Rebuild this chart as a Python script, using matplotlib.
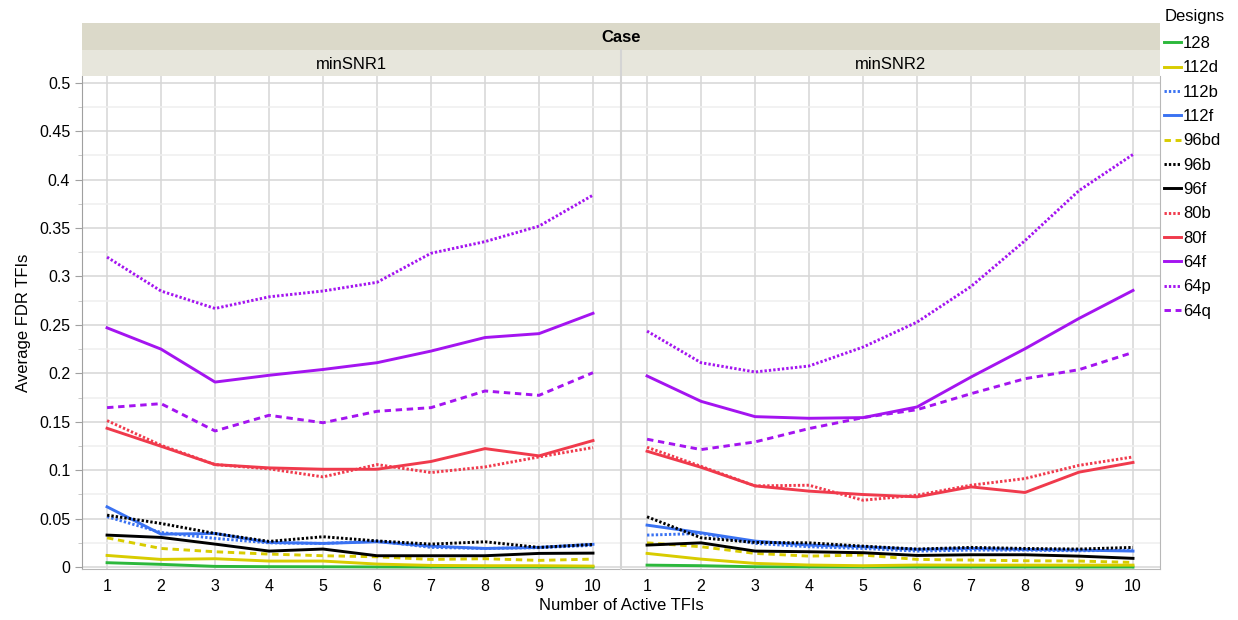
import matplotlib
matplotlib.use("Agg")
import matplotlib.pyplot as plt
from matplotlib.ticker import MultipleLocator

plt.rcParams['font.family'] = ['Liberation Sans', 'DejaVu Sans']

active_tfis = [1, 2, 3, 4, 5, 6, 7, 8, 9, 10]
cases = ["minSNR1", "minSNR2"]
designs = ["128", "112d", "112b", "112f", "96bd", "96b", "96f",
           "80b", "80f", "64f", "64p", "64q"]

# average FDR per design, one list per case
fdr_snr1 = {
    "128":  [0.0045, 0.0028, 0.0007, 0.0004, 0.0003, 0.0001, 0.0, 0.0, 0.0, 0.0],
    "112d": [0.012, 0.0079, 0.0086, 0.0062, 0.0062, 0.0031, 0.0017, 0.0014, 0.0014, 0.001],
    "112b": [0.052, 0.0357, 0.0296, 0.025, 0.0244, 0.0268, 0.0203, 0.0192, 0.020, 0.0224],
    "112f": [0.0622, 0.034, 0.0347, 0.0254, 0.0244, 0.0261, 0.0216, 0.0192, 0.0203, 0.0235],
    "96bd": [0.0302, 0.0192, 0.0158, 0.0134, 0.0117, 0.0106, 0.0079, 0.0086, 0.0069, 0.0082],
    "96b":  [0.0536, 0.045, 0.0347, 0.0265, 0.0313, 0.027, 0.0237, 0.0261, 0.0203, 0.0234],
    "96f":  [0.033, 0.0306, 0.0237, 0.0165, 0.0186, 0.0117, 0.0117, 0.0117, 0.0141, 0.0144],
    "80b":  [0.1512, 0.1258, 0.1058, 0.1014, 0.0931, 0.1058, 0.0976, 0.1034, 0.1137, 0.1234],
    "80f":  [0.1433, 0.1247, 0.1058, 0.1024, 0.101, 0.101, 0.109, 0.1223, 0.1148, 0.1306],
    "64f":  [0.247, 0.225, 0.191, 0.198, 0.204, 0.211, 0.223, 0.237, 0.241, 0.262],
    "64p":  [0.32, 0.285, 0.267, 0.279, 0.285, 0.294, 0.324, 0.336, 0.352, 0.384],
    "64q":  [0.1646, 0.1687, 0.1405, 0.1567, 0.149, 0.1608, 0.1646, 0.1818, 0.1773, 0.2007],
}
fdr_snr2 = {
    "128":  [0.002, 0.0014, 0.0003, 0.0001, 0.0, 0.0, 0.0, 0.0, 0.0, 0.0],
    "112d": [0.0141, 0.0082, 0.0038, 0.0021, 0.0014, 0.0021, 0.002, 0.002, 0.002, 0.002],
    "112b": [0.033, 0.0347, 0.0244, 0.021, 0.0192, 0.0165, 0.0175, 0.0175, 0.0168, 0.0175],
    "112f": [0.0433, 0.0354, 0.0268, 0.0227, 0.021, 0.0182, 0.0192, 0.0182, 0.0175, 0.0165],
    "96bd": [0.025, 0.021, 0.0141, 0.0113, 0.0124, 0.0079, 0.0072, 0.0065, 0.0062, 0.0048],
    "96b":  [0.0519, 0.0302, 0.0254, 0.025, 0.0216, 0.0186, 0.0203, 0.0192, 0.0186, 0.0203],
    "96f":  [0.0227, 0.025, 0.0165, 0.0158, 0.0148, 0.012, 0.0127, 0.0127, 0.0113, 0.009],
    "80b":  [0.1237, 0.104, 0.0838, 0.0845, 0.069, 0.0742, 0.0845, 0.0914, 0.105, 0.1137],
    "80f":  [0.1196, 0.103, 0.0838, 0.0784, 0.0749, 0.0725, 0.0828, 0.077, 0.098, 0.108],
    "64f":  [0.1973, 0.1711, 0.1553, 0.1536, 0.1543, 0.1653, 0.1962, 0.2254, 0.2567, 0.2856],
    "64p":  [0.2436, 0.211, 0.2014, 0.2076, 0.2271, 0.2529, 0.2897, 0.337, 0.3887, 0.426],
    "64q":  [0.132, 0.1213, 0.1292, 0.143, 0.1543, 0.1625, 0.179, 0.1945, 0.2038, 0.2216],
}

green = "#2cb83c"
yellow = "#d8cc00"
blue = "#3a72f2"
black = "#000000"
red = "#f03a4c"
purple = "#a414f0"
dot = (0, (0.8, 0.7))
dash = (0, (2.2, 1.6))
styles = {
    "128": (green, "-"), "112d": (yellow, "-"), "112b": (blue, dot),
    "112f": (blue, "-"), "96bd": (yellow, dash), "96b": (black, dot),
    "96f": (black, "-"), "80b": (red, dot), "80f": (red, "-"),
    "64f": (purple, "-"), "64p": (purple, dot), "64q": (purple, dash),
}

W, H = 1238, 620
fig = plt.figure(figsize=(W / 100, H / 100), dpi=100)


def fx(px):
    return px / W


def fy(py):
    return 1 - py / H


panels = [(82, 620), (622, 1160)]
top, bottom = 76, 569
axes = []
for (x0, x1), case, data in zip(panels, cases, [fdr_snr1, fdr_snr2]):
    ax = fig.add_axes([fx(x0), fy(bottom), fx(x1 - x0), fy(top) - fy(bottom)])
    for d in designs:
        c, ls = styles[d]
        ax.plot(active_tfis, data[d], color=c, linestyle=ls, lw=2.1, label=d)
    ax.set_xlim(0.536, 10.5)
    ax.set_ylim(-0.002, 0.507)
    ax.set_xticks(active_tfis)
    ax.yaxis.set_major_locator(MultipleLocator(0.05))
    ax.yaxis.set_minor_locator(MultipleLocator(0.025))
    ax.grid(True, which="major", color="#d6d6d6", lw=1.1)
    ax.grid(True, which="minor", axis="y", color="#efefef", lw=1.1)
    ax.set_axisbelow(True)
    for s in ax.spines.values():
        s.set_visible(False)
    ax.spines["bottom"].set_visible(True)
    ax.spines["bottom"].set_color("#b8b8b8")
    ax.tick_params(axis="x", length=0, labelsize=11.5, pad=7)
    if case == cases[0]:
        ax.spines["left"].set_visible(True)
        ax.spines["left"].set_color("#a0a0a0")
        ax.tick_params(axis="y", which="major", length=5, color="#a0a0a0", labelsize=11.5)
        ax.tick_params(axis="y", which="minor", length=3, color="#c0c0c0")
        ax.set_yticklabels(["0" if v == 0 else ("%g" % v) for v in ax.get_yticks()])
        ax.set_ylabel("Average FDR TFIs", fontsize=12, labelpad=6)
    else:
        ax.tick_params(axis="y", which="both", length=0, labelleft=False)
        ax.spines["right"].set_visible(True)
        ax.spines["right"].set_color("#b8b8b8")
    # strip for each case
    sax = fig.add_axes([fx(x0), fy(76), fx(x1 - x0), fy(50) - fy(76)])
    sax.set_facecolor("#e7e6dc")
    sax.set_xticks([])
    sax.set_yticks([])
    for s in sax.spines.values():
        s.set_visible(False)
    sax.text(0.5, 0.45, case, ha="center", va="center", fontsize=12, transform=sax.transAxes)
    axes.append(ax)

# separator between the panels
fig.add_artist(plt.Line2D([fx(621), fx(621)], [fy(569), fy(50)], color="#d4d4d4", lw=1.5))

cax = fig.add_axes([fx(82), fy(50), fx(1160 - 82), fy(23) - fy(50)])
cax.set_facecolor("#dbd9c9")
cax.set_xticks([])
cax.set_yticks([])
for s in cax.spines.values():
    s.set_visible(False)
cax.text(0.5, 0.45, "Case", ha="center", va="center", fontsize=12, fontweight="bold",
         transform=cax.transAxes)

fig.text(fx(621), fy(606), "Number of Active TFIs", ha="center", va="center", fontsize=12)

fig.text(fx(1165), fy(16), "Designs", ha="left", va="center", fontsize=12)
handles, labels = axes[0].get_legend_handles_labels()
leg = fig.legend(handles, labels, loc="upper left",
                 bbox_to_anchor=(fx(1164), fy(36)), frameon=False, fontsize=12,
                 handlelength=1.0, handletextpad=0.15,
                 labelspacing=0.56, borderaxespad=0, borderpad=0)

fig.savefig("out.png", dpi=100)
